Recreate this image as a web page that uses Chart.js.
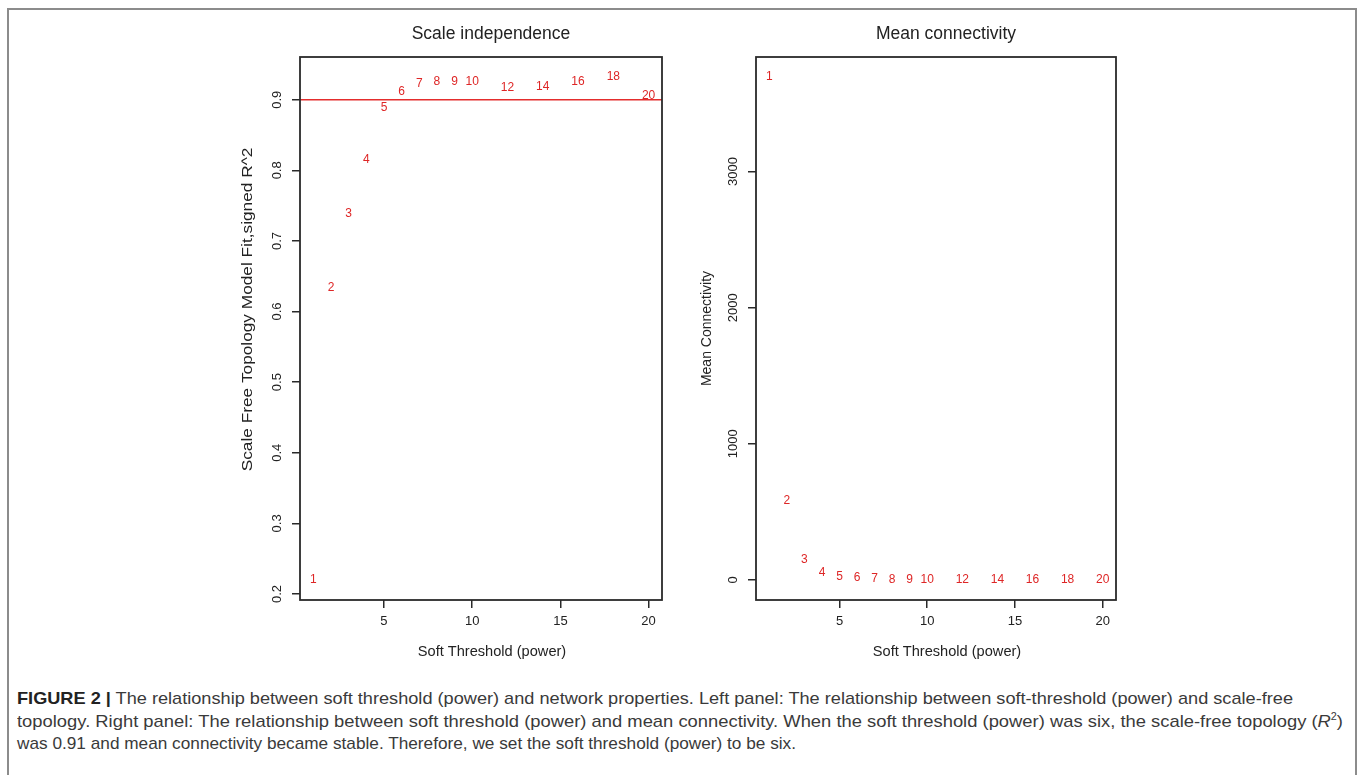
<!DOCTYPE html>
<html lang="en">

<head>
  <meta charset="UTF-8">
  <title>Soft threshold</title>
  <script src="https://cdn.jsdelivr.net/npm/chart.js"></script>
  <style>
    body { margin: 0; background: #fff; width: 1357px; height: 775px; overflow: hidden; position: relative; }
    .frame { position: absolute; left: 7px; top: 8px; width: 1346px; height: 800px; border: 2px solid #8c8c8c; }
    canvas { position: absolute; top: 0; }
    #caption { position: absolute; left: 17px; top: 688px; font-family: "Liberation Sans Narrow", "Liberation Sans", Arial, sans-serif; font-size: 17px; color: #3a3a3a; }
    #caption .ln { white-space: nowrap; height: 22.5px; line-height: 22px; }
    #caption .ln span { display: inline-block; transform-origin: left center; }
    #caption b { color: #222; }
    #caption sup { font-size: 10px; line-height: 0; }
  </style>
</head>

<body>
  <div class="frame"></div>
  <canvas id="leftChart" width="450" height="680" style="left:230px"></canvas>
  <canvas id="rightChart" width="450" height="680" style="left:680px"></canvas>

  <div id="caption">
    <div class="ln"><span data-w="1276"><b>FIGURE 2 |</b> The relationship between soft threshold (power) and network properties. Left panel: The relationship between soft-threshold (power) and scale-free</span></div>
    <div class="ln"><span data-w="1326">topology. Right panel: The relationship between soft threshold (power) and mean connectivity. When the soft threshold (power) was six, the scale-free topology (<i>R</i><sup>2</sup>)</span></div>
    <div class="ln"><span data-w="779">was 0.91 and mean connectivity became stable. Therefore, we set the soft threshold (power) to be six.</span></div>
  </div>

  <script>
    const powers = [1, 2, 3, 4, 5, 6, 7, 8, 9, 10, 12, 14, 16, 18, 20]
    const scaleFitR2 = [0.22, 0.634, 0.738, 0.815, 0.889, 0.912, 0.922, 0.926, 0.926, 0.925, 0.917, 0.919, 0.926, 0.932, 0.906]
    const meanK = [3694, 583, 149, 51, 27, 14, 8, 5, 3.5, 2.6, 1.6, 1.1, 0.9, 0.7, 0.6]
    const cutoffR2 = 0.9

    const xTicks = [5, 10, 15, 20]
    const leftYTicks = [0.2, 0.3, 0.4, 0.5, 0.6, 0.7, 0.8, 0.9]
    const rightYTicks = [0, 1000, 2000, 3000]

    const fontFam = '"Liberation Sans", Arial, sans-serif'
    const axisColor = '#222'
    const redText = 'rgb(222,38,38)'

    // R pads the data range by 4% on each side
    function rRange(arr) {
      let lo = Math.min(...arr), hi = Math.max(...arr)
      let d = (hi - lo) * 0.04
      return [lo - d, hi + d]
    }

    const rStyle = {
      id: 'rStyle',
      afterDatasetsDraw(chart, args, opts) {
        const ctx = chart.ctx
        const a = chart.chartArea
        const cx = (a.left + a.right) / 2
        ctx.save()
        if (opts.hline != null) {
          let y = chart.scales.y.getPixelForValue(opts.hline)
          ctx.strokeStyle = 'rgb(228,45,45)'
          ctx.lineWidth = 1.6
          ctx.beginPath()
          ctx.moveTo(a.left, y)
          ctx.lineTo(a.right, y)
          ctx.stroke()
        }
        // point labels instead of symbols
        ctx.fillStyle = redText
        ctx.font = '12px ' + fontFam
        ctx.textAlign = 'center'
        ctx.textBaseline = 'middle'
        chart.getDatasetMeta(0).data.forEach((pt, i) => {
          ctx.fillText(String(powers[i]), pt.x, pt.y)
        })
        // box
        ctx.strokeStyle = '#2a2a2a'
        ctx.lineWidth = 1.8
        ctx.strokeRect(a.left, a.top, a.right - a.left, a.bottom - a.top)
        // titles (the figure has them a bit right of the box centre)
        ctx.fillStyle = axisColor
        ctx.font = '17.5px ' + fontFam
        ctx.fillText(opts.title, cx + 10, 34)
        ctx.font = '14.6px ' + fontFam
        ctx.fillText('Soft Threshold (power)', cx + 11, 652)
        ctx.save()
        ctx.translate(opts.yLabelX, (a.top + a.bottom) / 2 + opts.yLabelDy)
        ctx.rotate(-Math.PI / 2)
        ctx.scale(opts.yLabelStretch, 1)
        ctx.font = opts.yLabelSize + 'px ' + fontFam
        ctx.fillText(opts.yLabel, 0, 0)
        ctx.restore()
        ctx.restore()
      }
    }

    function makeChart(id, yVals, yTicks, opts) {
      let xr = rRange(powers)
      let yr = rRange(yVals)
      return new Chart(document.getElementById(id), {
        type: 'scatter',
        data: {
          datasets: [{
            data: powers.map((p, i) => ({ x: p, y: yVals[i] })),
            pointRadius: 0,
            pointHoverRadius: 0
          }]
        },
        plugins: [rStyle],
        options: {
          responsive: false,
          animation: false,
          events: [],
          layout: { padding: { left: 0, right: opts.padRight, top: 57, bottom: 0 } },
          plugins: {
            legend: { display: false },
            tooltip: { enabled: false },
            rStyle: opts
          },
          scales: {
            x: {
              type: 'linear',
              min: xr[0],
              max: xr[1],
              afterBuildTicks: s => { s.ticks = xTicks.map(v => ({ value: v })) },
              afterFit: s => { s.height = 80 },
              ticks: { color: axisColor, font: { size: 13, family: fontFam }, padding: 6, maxRotation: 0, autoSkip: false, callback: v => String(v) },
              grid: { display: true, drawOnChartArea: false, drawTicks: true, tickLength: 8, color: '#2a2a2a', lineWidth: 1.5 },
              border: { display: false }
            },
            y: {
              type: 'linear',
              min: yr[0],
              max: yr[1],
              afterBuildTicks: s => { s.ticks = yTicks.map(v => ({ value: v })) },
              afterFit: s => { s.width = opts.yWidth },
              ticks: { color: axisColor, font: { size: 13, family: fontFam }, padding: opts.tickPad, minRotation: 90, maxRotation: 90, crossAlign: 'center', autoSkip: false, callback: v => String(v) },
              grid: { display: true, drawOnChartArea: false, drawTicks: true, tickLength: 8, color: '#2a2a2a', lineWidth: 1.5 },
              border: { display: false }
            }
          }
        }
      })
    }

    makeChart('leftChart', scaleFitR2, leftYTicks,
      { title: 'Scale independence', hline: cutoffR2, padRight: 18, yWidth: 70, tickPad: 6,
        yLabel: 'Scale Free Topology Model Fit,signed R^2', yLabelX: 18, yLabelDy: -19, yLabelSize: 14.5, yLabelStretch: 1.19 })
    makeChart('rightChart', meanK, rightYTicks,
      { title: 'Mean connectivity', hline: null, padRight: 14, yWidth: 76, tickPad: 0.5,
        yLabel: 'Mean Connectivity', yLabelX: 27, yLabelDy: 0, yLabelSize: 14, yLabelStretch: 1 })

    // squeeze caption lines to the measured line widths
    document.querySelectorAll('#caption .ln span').forEach(sp => {
      let w = sp.getBoundingClientRect().width
      let target = parseFloat(sp.dataset.w)
      sp.style.transform = 'scaleX(' + (target / w) + ')'
    })
  </script>
</body>

</html>
